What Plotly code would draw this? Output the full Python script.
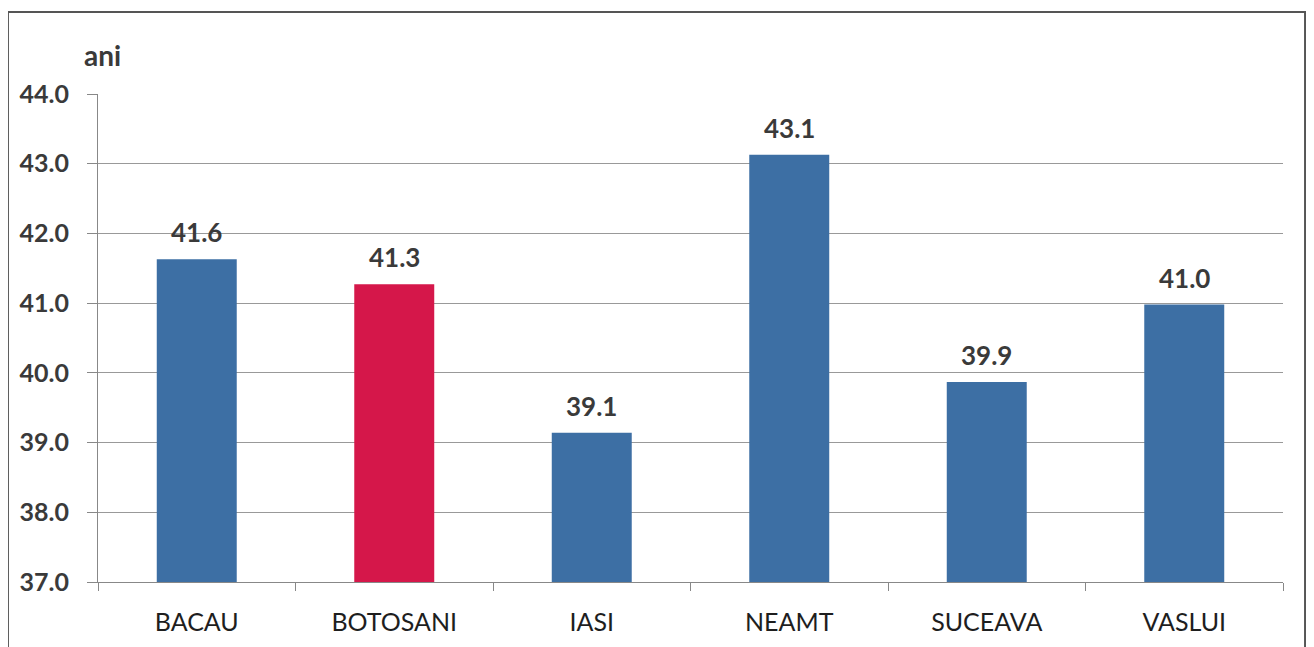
import plotly.graph_objects as go

categories = ["BACAU", "BOTOSANI", "IASI", "NEAMT", "SUCEAVA", "VASLUI"]
values = [41.63, 41.27, 39.14, 43.13, 39.87, 40.98]
bar_colors = ["#3D6FA4", "#D5174A", "#3D6FA4", "#3D6FA4", "#3D6FA4", "#3D6FA4"]
y_ticks = [37, 38, 39, 40, 41, 42, 43, 44]
y_label = "ani"

font_family = "Lato, Noto Sans, Liberation Sans, Arial"
text_color = "#3a3a3a"

fig = go.Figure(go.Bar(
    x=categories, y=values,
    marker=dict(color=bar_colors, line=dict(width=0)),
    hoverinfo="x+y",
))

annotations = [dict(
    x=c, y=v, xref="x", yref="y", text=f"{v:.1f}", showarrow=False,
    yanchor="middle", yshift=27,
    font=dict(size=26, color=text_color, family=font_family, weight="bold"),
) for c, v in zip(categories, values)]

annotations.append(dict(
    text=y_label, xref="paper", yref="paper", x=-0.0135, y=1.08,
    xanchor="left", yanchor="middle", showarrow=False,
    font=dict(size=28, color=text_color, family=font_family, weight="bold"),
))

fig.update_layout(
    width=1306, height=639,
    margin=dict(l=90, r=31, t=86, b=65),
    paper_bgcolor="white", plot_bgcolor="white",
    bargap=0.595,
    showlegend=False,
    font=dict(family=font_family, color=text_color),
    xaxis=dict(
        tickson="boundaries", ticks="outside", ticklen=8, tickcolor="#888888",
        showline=True, linecolor="#888888", linewidth=1,
        tickfont=dict(size=25, color="#1e1e1e"),
        ticklabelstandoff=18,
        showgrid=False, automargin=False,
    ),
    yaxis=dict(
        range=[37, 44], tickvals=y_ticks,
        ticktext=[f"{t:.1f}" for t in y_ticks],
        ticks="outside", ticklen=10, tickcolor="#888888",
        showline=True, linecolor="#888888", linewidth=1,
        showgrid=True, gridcolor="#999999", gridwidth=1,
        tickfont=dict(size=25, color=text_color, weight="bold"),
        ticklabelstandoff=13,
        zeroline=False, automargin=False,
    ),
    annotations=annotations,
    shapes=[dict(
        type="rect", xref="paper", yref="paper",
        x0=-0.076, x1=1.0186, y0=-0.2, y1=1.168,
        line=dict(color="#555555", width=2), fillcolor="rgba(0,0,0,0)",
        layer="below",
    )],
)

fig.write_html("out.html")
